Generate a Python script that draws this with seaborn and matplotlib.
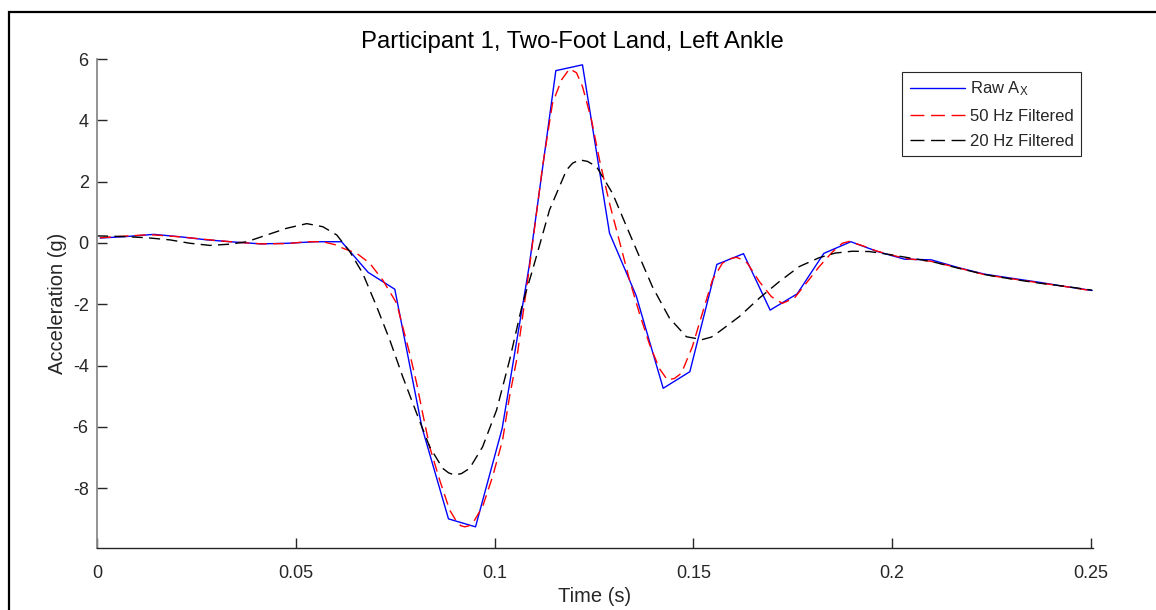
import numpy as np
import pandas as pd
import matplotlib
matplotlib.use("Agg")
import matplotlib.pyplot as plt
import seaborn as sns
from matplotlib.patches import Rectangle

# ---------------- data ----------------
raw_t = [0.0008, 0.0075, 0.0143, 0.0210, 0.0277, 0.0345, 0.0412, 0.0480, 0.0547, 0.0615,
         0.0682, 0.0749, 0.0817, 0.0884, 0.0952, 0.1019, 0.1087, 0.1154, 0.1221, 0.1289,
         0.1356, 0.1424, 0.1491, 0.1559, 0.1626, 0.1693, 0.1761, 0.1828, 0.1896, 0.1963,
         0.2031, 0.2098, 0.2165, 0.2233, 0.2300, 0.2368, 0.2435, 0.2503]
raw_v = [0.16, 0.21, 0.28, 0.20, 0.10, 0.03, -0.03, -0.01, 0.04, 0.04,
         -0.96, -1.51, -6.00, -9.00, -9.26, -6.05, -0.75, 5.62, 5.81, 0.32,
         -1.72, -4.74, -4.20, -0.70, -0.35, -2.19, -1.66, -0.34, 0.04, -0.28,
         -0.53, -0.55, -0.80, -1.02, -1.15, -1.28, -1.42, -1.55]

f50_t = [0.00075, 0.00653, 0.01332, 0.02085, 0.02764, 0.03442, 0.04121, 0.04799, 0.05276, 0.05678,
         0.06030, 0.06181, 0.06533, 0.06859, 0.07186, 0.07538, 0.07688, 0.07864, 0.08040, 0.08191,
         0.08367, 0.08618, 0.08869, 0.09045, 0.09146, 0.09246, 0.09347, 0.09447, 0.09698, 0.09950,
         0.10201, 0.10377, 0.10553, 0.10879, 0.11206, 0.11457, 0.11683, 0.11884, 0.12060, 0.12211,
         0.12437, 0.12638, 0.12889, 0.13141, 0.13392, 0.13643, 0.13894, 0.14146, 0.14347, 0.14523,
         0.14698, 0.14975, 0.15226, 0.15477, 0.15729, 0.15905, 0.16080, 0.16206, 0.16357, 0.16658,
         0.16960, 0.17236, 0.17538, 0.17839, 0.18166, 0.18492, 0.18744, 0.18920, 0.19322, 0.19598,
         0.20302, 0.20980, 0.21683, 0.22337, 0.23015, 0.23693, 0.24347, 0.25025]
f50_v = [0.17, 0.22, 0.27, 0.20, 0.11, 0.03, -0.03, -0.02, 0.04, 0.04,
         -0.07, -0.17, -0.34, -0.66, -1.21, -1.97, -2.73, -3.60, -4.58, -5.56,
         -6.65, -7.73, -8.71, -9.09, -9.22, -9.26, -9.23, -9.15, -8.60, -7.62,
         -6.43, -5.00, -3.82, -0.77, 2.49, 4.56, 5.32, 5.68, 5.55, 5.10,
         4.01, 2.71, 1.30, 0.05, -1.20, -2.30, -3.30, -4.10, -4.47, -4.42,
         -4.25, -3.38, -2.29, -1.21, -0.66, -0.52, -0.47, -0.53, -0.66, -1.26,
         -1.75, -1.97, -1.80, -1.31, -0.77, -0.30, -0.01, 0.05, -0.12, -0.26,
         -0.50, -0.60, -0.82, -1.04, -1.17, -1.30, -1.42, -1.56]

f20_t = [0.0, 0.00653, 0.01256, 0.01834, 0.02337, 0.02839, 0.03342, 0.03769, 0.04271, 0.04774,
         0.05276, 0.05678, 0.06030, 0.06357, 0.06683, 0.07035, 0.07362, 0.07688, 0.08040, 0.08367,
         0.08693, 0.08844, 0.08995, 0.09171, 0.09372, 0.09698, 0.10050, 0.10377, 0.10704, 0.10955,
         0.11382, 0.11809, 0.11960, 0.12136, 0.12337, 0.12563, 0.12965, 0.13317, 0.13643, 0.13970,
         0.14397, 0.14824, 0.15126, 0.15201, 0.15452, 0.15653, 0.16156, 0.16658, 0.17161, 0.17663,
         0.18166, 0.18568, 0.18995, 0.19422, 0.19749, 0.20352, 0.21005, 0.21683, 0.22362, 0.23015,
         0.23693, 0.24372, 0.25025]
f20_v = [0.23, 0.21, 0.17, 0.10, -0.01, -0.08, -0.04, 0.04, 0.26, 0.48,
         0.63, 0.53, 0.26, -0.28, -0.99, -2.08, -3.16, -4.36, -5.56, -6.65,
         -7.35, -7.50, -7.57, -7.52, -7.35, -6.65, -5.45, -3.82, -1.97, -0.88,
         1.08, 2.38, 2.60, 2.71, 2.66, 2.49, 1.62, 0.54, -0.45, -1.43,
         -2.45, -3.06, -3.13, -3.16, -3.07, -2.89, -2.40, -1.80, -1.26, -0.77,
         -0.48, -0.33, -0.27, -0.28, -0.34, -0.47, -0.61, -0.83, -1.04, -1.18,
         -1.31, -1.42, -1.54]

labels = ["Raw A$_\\mathregular{X}$", "50 Hz Filtered", "20 Hz Filtered"]
x_ticks = [0, 0.05, 0.1, 0.15, 0.2, 0.25]
x_ticklabels = ["0", "0.05", "0.1", "0.15", "0.2", "0.25"]
y_ticks = [-8, -6, -4, -2, 0, 2, 4, 6]
y_ticklabels = ["-8", "-6", "-4", "-2", "0", "2", "4", "6"]
title = "Participant 1, Two-Foot Land, Left Ankle"
xlabel = "Time (s)"
ylabel = "Acceleration (g)"

# ---------------- style ----------------
sns.set_theme(style="white")
plt.rcParams["font.family"] = ["Liberation Sans", "DejaVu Sans"]
plt.rcParams["mathtext.fontset"] = "custom"
plt.rcParams["mathtext.rm"] = "Liberation Sans"
plt.rcParams["mathtext.it"] = "Liberation Sans"

W, H = 1156, 610
fig = plt.figure(figsize=(W / 100, H / 100), dpi=100)
fig.patch.set_facecolor("white")
ax = fig.add_axes([97 / W, 1 - 548 / H, (1093 - 97) / W, (548 - 59) / H])

raw_df = pd.DataFrame({"t": raw_t, "v": raw_v})
f50_df = pd.DataFrame({"t": f50_t, "v": f50_v})
f20_df = pd.DataFrame({"t": f20_t, "v": f20_v})

sns.lineplot(data=raw_df, x="t", y="v", ax=ax, color="#0000ff", linewidth=1.0,
             label=labels[0], estimator=None, sort=False)
sns.lineplot(data=f50_df, x="t", y="v", ax=ax, color="#ff0000", linewidth=1.0,
             label=labels[1], estimator=None, sort=False)
sns.lineplot(data=f20_df, x="t", y="v", ax=ax, color="#000000", linewidth=1.0,
             label=labels[2], estimator=None, sort=False)
lines = ax.get_lines()
for ln in lines[1:3]:
    ln.set_dashes([8, 4.5])

ax.set_xlim(0, 0.2505)
ax.set_ylim(-9.95, 6)
ax.set_xticks(x_ticks)
ax.set_xticklabels(x_ticklabels)
ax.set_yticks(y_ticks)
ax.set_yticklabels(y_ticklabels)
ax.tick_params(axis="both", which="major", bottom=True, left=True, top=False, right=False,
               direction="in", length=7, width=1.0, colors="#262626",
               labelsize=13, labelcolor="#262626")
ax.tick_params(axis="x", pad=12)
ax.tick_params(axis="y", pad=6)
for s in ["top", "right"]:
    ax.spines[s].set_visible(False)
ax.spines["bottom"].set_color("#262626")
ax.spines["bottom"].set_linewidth(1.0)
ax.spines["left"].set_color("#8a8a8a")
ax.spines["left"].set_linewidth(1.3)

ax.set_xlabel(xlabel, fontsize=14.5, color="#262626", labelpad=4)
ax.set_ylabel(ylabel, fontsize=14.5, color="#262626", labelpad=4)
fig.text(572 / W, 1 - 42 / H, title, ha="center", va="center", fontsize=17.2, color="#000000")

leg = ax.legend(loc="upper right", bbox_to_anchor=((1081 - 97) / 996, (548 - 72) / 489),
                fontsize=12, frameon=True, fancybox=False, framealpha=1,
                edgecolor="#262626", handlelength=3.3, handletextpad=0.3,
                borderpad=0.45, labelspacing=0.62, borderaxespad=0)
leg.get_frame().set_linewidth(0.8)
for ln in leg.get_lines()[1:]:
    ln.set_dashes([10, 4.8])

# outer figure border
fig.patches.append(Rectangle((9 / W, -0.2), 1.2, 1 - 12 / H + 0.2, transform=fig.transFigure,
                             fill=False, edgecolor="black", linewidth=1.6, clip_on=False))

fig.savefig("out.png", dpi=100, facecolor="white")
